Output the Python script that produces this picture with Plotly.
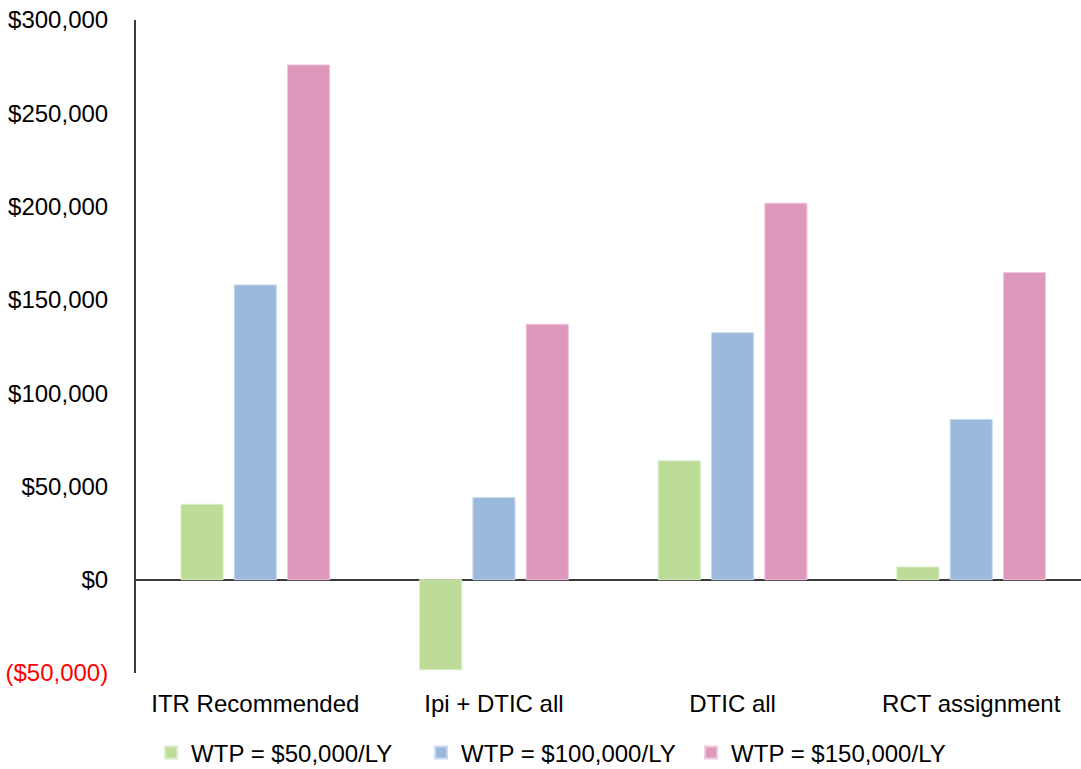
import plotly.graph_objects as go

strategies = ["ITR Recommended", "Ipi + DTIC all", "DTIC all", "RCT assignment"]
wtp_50k = [40400, -48300, 63700, 6800]
wtp_100k = [158000, 44000, 132400, 85900]
wtp_150k = [275900, 136900, 201800, 164600]

series_names = ["WTP = $50,000/LY", "WTP = $100,000/LY", "WTP = $150,000/LY"]
fill_colors = ["#BDDC97", "#9BB9DC", "#DE98BB"]
edge_colors = ["#D9ECC4", "#C9DAEE", "#EFC6DA"]

tick_vals = [-50000, 0, 50000, 100000, 150000, 200000, 250000, 300000]
tick_text = ["<span style='color:#FF0000'>($50,000)</span>", "$0", "$50,000", "$100,000",
             "$150,000", "$200,000", "$250,000", "$300,000"]

FONT = "Liberation Sans, Arial, Helvetica, sans-serif"
FS = 24

fig = go.Figure()
for name, vals, fc, ec in zip(series_names, [wtp_50k, wtp_100k, wtp_150k], fill_colors, edge_colors):
    fig.add_trace(go.Bar(
        x=strategies, y=vals, name=name,
        marker=dict(color=fc, line=dict(color=ec, width=1)),
    ))

fig.update_layout(
    width=1081, height=769,
    margin=dict(l=136, r=0, t=20, b=96, autoexpand=False),
    paper_bgcolor="white", plot_bgcolor="white",
    barmode="group", bargap=0.33, bargroupgap=0.21,
    font=dict(family=FONT, size=FS, color="#000000"),
    showlegend=True,
    legend=dict(
        orientation="h", x=0.016, xanchor="left",
        yref="container", y=0.021, yanchor="middle",
        font=dict(family=FONT, size=FS, color="#000000"),
        bgcolor="rgba(0,0,0,0)", itemsizing="constant",
        entrywidth=225, entrywidthmode="pixels",
    ),
)

fig.update_xaxes(
    range=[-0.5, 3.46], showline=False, showgrid=False, zeroline=False,
    ticks="", ticklabelstandoff=14,
    tickfont=dict(family=FONT, size=FS, color="#000000"),
)
fig.update_yaxes(
    range=[-50000, 300000], tickvals=tick_vals, ticktext=tick_text,
    showline=True, linecolor="#3A3A3A", linewidth=2,
    showgrid=False, zeroline=True, zerolinecolor="#3A3A3A", zerolinewidth=2,
    ticks="", ticklabelstandoff=21,
    tickfont=dict(family=FONT, size=FS, color="#000000"),
)

fig.write_html("out.html")
